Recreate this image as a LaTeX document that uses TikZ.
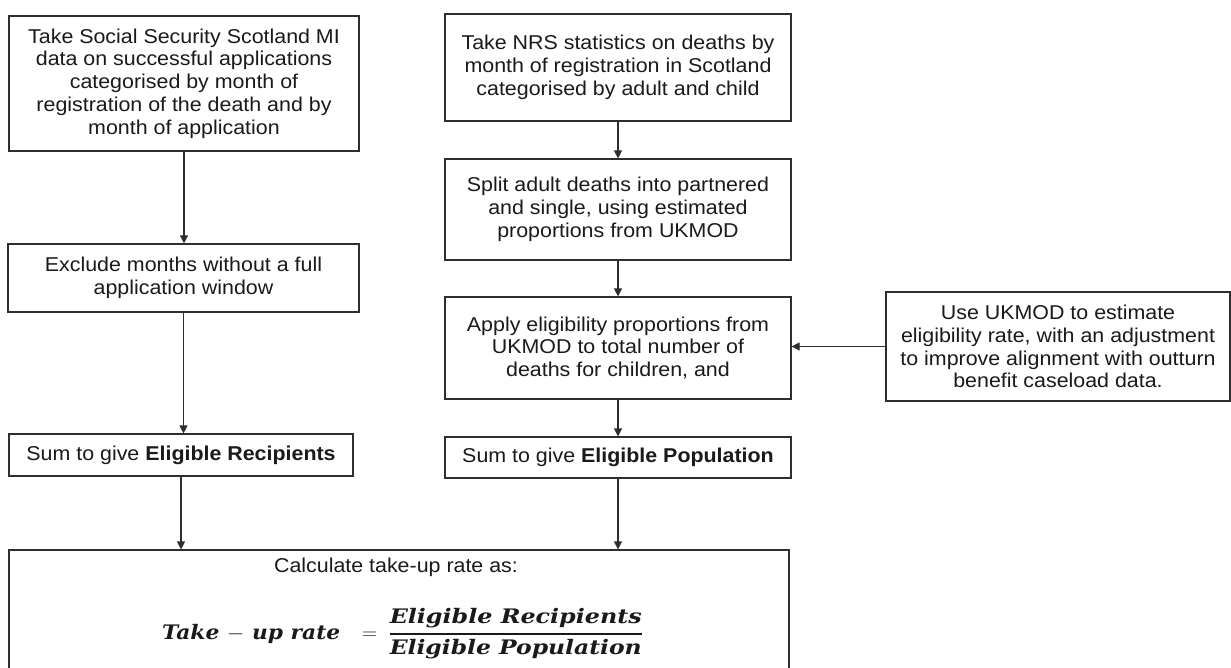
\documentclass[tikz,border=0pt]{standalone}
\usepackage{fontspec}
\usepackage{graphicx}
\setmainfont{Liberation Sans}[FakeStretch=1.07]
\newfontfamily\eqfont{DejaVu Serif}
\usetikzlibrary{arrows.meta}
\definecolor{linecol}{HTML}{2E2E2E}
\definecolor{txtcol}{HTML}{1A1A1A}
% bold italic formula text squeezed or widened to a given width
\newcommand\eqtext[2]{\resizebox{#1}{\height}{\eqfont\bfseries\itshape #2}}
\begin{document}
\begin{tikzpicture}[x=1pt,y=-1pt,
  box/.style={draw=linecol, line width=1.2pt, text=txtcol, align=center,
    inner sep=0pt, font=\fontsize{20}{22.7}\selectfont},
  arr/.style={draw=linecol, line width=1.2pt, -{Triangle[length=8pt,width=8pt]}}
]
\useasboundingbox (0,0) rectangle (1231,667);
\fill[white] (0,0) rectangle (1231,667);

% left column: recipients
\node[box, minimum width=350pt, minimum height=135pt] (sss) at (184,83.5)
  {Take Social Security Scotland MI\\data on successful applications\\categorised by month of\\registration of the death and by\\month of application};
\node[box, minimum width=351pt, minimum height=68pt] (exclude) at (183.5,278)
  {Exclude months without a full\\application window};
\node[box, minimum width=344pt, minimum height=42pt] (sumrec) at (181,455)
  {Sum to give \textbf{Eligible Recipients}};

% right column: eligible population
\node[box, minimum width=346pt, minimum height=107pt] (nrs) at (618,67.5)
  {Take NRS statistics on deaths by\\month of registration in Scotland\\categorised by adult and child};
\node[box, minimum width=346pt, minimum height=101pt] (split) at (618,209.5)
  {Split adult deaths into partnered\\and single, using estimated\\proportions from UKMOD};
\node[box, minimum width=346pt, minimum height=102pt] (apply) at (618,348)
  {Apply eligibility proportions from\\UKMOD to total number of\\deaths for children, and};
\node[box, minimum width=346pt, minimum height=41pt] (sumpop) at (618,457.5)
  {Sum to give \textbf{Eligible Population}};

% side input
\node[box, minimum width=344pt, minimum height=109pt] (use) at (1058,346.5)
  {Use UKMOD to estimate\\eligibility rate, with an adjustment\\to improve alignment with outturn\\benefit caseload data.};

% final calculation
\node[box, minimum width=780pt, minimum height=130pt] (calc) at (399,615) {};
\node[text=txtcol, inner sep=0pt, font=\fontsize{20}{22}\selectfont] (calctxt) at (396,567)
  {Calculate take-up rate as:};
\node[text=txtcol, inner sep=0pt, anchor=base west, font=\fontsize{20}{24}\selectfont] (eq) at (162,639)
  {$\displaystyle \eqtext{178pt}{Take $-$ up rate}\mskip 14mu = \mskip 5mu
   {\eqtext{252pt}{Eligible Recipients} \above 1.6pt \eqtext{252pt}{Eligible Population}}$};

% connectors
\draw[arr] (sss.south) -- (sss.south |- exclude.north);
\draw[arr] (exclude.south) -- (exclude.south |- sumrec.north);
\draw[arr] (sumrec.south) -- (sumrec.south |- calc.north);
\draw[arr] (nrs.south) -- (split.north);
\draw[arr] (split.south) -- (apply.north);
\draw[arr] (apply.south) -- (sumpop.north);
\draw[arr] (sumpop.south) -- (sumpop.south |- calc.north);
\draw[arr] (use.west) -- (use.west -| apply.east);
\end{tikzpicture}
\end{document}
